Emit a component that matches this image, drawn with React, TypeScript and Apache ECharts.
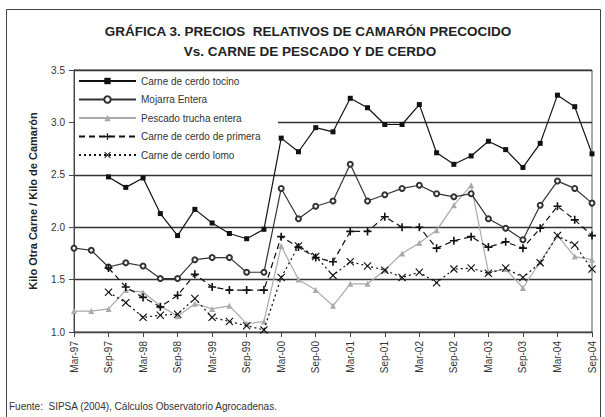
import React, { useEffect, useRef } from "react";
import * as echarts from "echarts";

const categories = [
  "Mar-97", "Jun-97", "Sep-97", "Dec-97", "Mar-98", "Jun-98", "Sep-98", "Dec-98",
  "Mar-99", "Jun-99", "Sep-99", "Dec-99", "Mar-00", "Jun-00", "Sep-00", "Dec-00",
  "Mar-01", "Jun-01", "Sep-01", "Dec-01", "Mar-02", "Jun-02", "Sep-02", "Dec-02",
  "Mar-03", "Jun-03", "Sep-03", "Dec-03", "Mar-04", "Jun-04", "Sep-04",
];

const seriesNames = [
  "Carne de cerdo tocino",
  "Mojarra Entera",
  "Pescado trucha entera",
  "Carne de cerdo de primera",
  "Carne de cerdo lomo",
];

const tocino = [null, null, 2.48, 2.38, 2.47, 2.13, 1.92, 2.17, 2.04, 1.94, 1.89, 1.98,
  2.85, 2.72, 2.95, 2.91, 3.23, 3.14, 2.98, 2.98, 3.17, 2.71, 2.6, 2.68, 2.82, 2.74, 2.57, 2.8, 3.26, 3.15, 2.7];
const mojarra = [1.8, 1.78, 1.62, 1.66, 1.63, 1.51, 1.51, 1.69, 1.71, 1.71, 1.57, 1.57,
  2.37, 2.08, 2.2, 2.25, 2.6, 2.25, 2.31, 2.37, 2.4, 2.32, 2.29, 2.32, 2.08, 1.99, 1.88, 2.21, 2.44, 2.37, 2.23];
const trucha = [1.2, 1.2, 1.22, 1.4, 1.38, 1.25, 1.15, 1.27, 1.22, 1.25, 1.08, 1.1,
  1.82, 1.5, 1.4, 1.25, 1.46, 1.46, 1.59, 1.75, 1.85, 1.97, 2.21, 2.4, 1.57, 1.6, 1.42, 1.67, 1.92, 1.72, 1.69];
const primera = [null, null, 1.61, 1.43, 1.33, 1.24, 1.35, 1.55, 1.43, 1.4, 1.4, 1.4,
  1.91, 1.81, 1.71, 1.67, 1.96, 1.96, 2.1, 2.0, 2.0, 1.8, 1.87, 1.91, 1.81, 1.86, 1.8, 1.99, 2.2, 2.07, 1.92];
const lomo = [null, null, 1.38, 1.28, 1.14, 1.16, 1.17, 1.32, 1.14, 1.1, 1.06, 1.02,
  1.52, 1.82, 1.72, 1.54, 1.67, 1.63, 1.59, 1.52, 1.57, 1.47, 1.6, 1.61, 1.56, 1.61, 1.52, 1.66, 1.92, 1.83, 1.6];

const titleLine1 = "GRÁFICA 3. PRECIOS  RELATIVOS DE CAMARÓN PRECOCIDO";
const titleLine2 = "Vs. CARNE DE PESCADO Y DE CERDO";
const yAxisTitle = "Kilo Otra Carne / Kilo de Camarón";
const sourceText = "Fuente:  SIPSA (2004), Cálculos Observatorio Agrocadenas.";

const PLUS = "path://M4,0H6V4H10V6H6V10H4V6H0V4H4Z";
const CROSS = "path://M1,0L5,4L9,0L10,1L6,5L10,9L9,10L5,6L1,10L0,9L4,5L0,1Z";

export default function App() {
  const ref = useRef<HTMLDivElement>(null);
  useEffect(() => {
    const chart = echarts.init(ref.current!, null, { renderer: "svg" });
    const font = "'Liberation Sans', Arial, sans-serif";
    chart.setOption({
      animation: false,
      backgroundColor: "#fff",
      textStyle: { fontFamily: font },
      grid: { left: 74, right: 13, top: 70, bottom: 85, show: true, borderColor: "#555", borderWidth: 1 },
      legend: {
        orient: "vertical",
        left: 76,
        top: 74,
        itemWidth: 57,
        itemHeight: 8,
        itemGap: 8.5,
        padding: 2,
        textStyle: { fontSize: 10, color: "#333", fontFamily: font },
        data: seriesNames,
      },
      graphic: [
        { type: "rect", z: 1, shape: { x: 75, y: 72, width: 203, height: 84 }, style: { fill: "#fff" } },
        { type: "rect", z: 0, shape: { x: 6.5, y: 9.5, width: 594, height: 430 }, style: { fill: "none", stroke: "#444", lineWidth: 1 } },
        {
          type: "text", x: 308, y: 31,
          style: { text: titleLine1, fill: "#222", font: "bold 13.5px 'Liberation Sans Narrow', 'Arial Narrow', sans-serif", align: "center", verticalAlign: "middle" },
        },
        {
          type: "text", x: 310, y: 51,
          style: { text: titleLine2, fill: "#222", font: "bold 13.5px 'Liberation Sans Narrow', 'Arial Narrow', sans-serif", align: "center", verticalAlign: "middle" },
        },
        {
          type: "text", x: 9, y: 406,
          style: { text: sourceText, fill: "#333", font: "10px 'Liberation Sans', Arial, sans-serif", align: "left", verticalAlign: "middle" },
        },
      ],
      xAxis: {
        type: "category",
        data: categories,
        boundaryGap: false,
        axisLine: { lineStyle: { color: "#444", width: 1 } },
        axisTick: { interval: 1, length: 5, lineStyle: { color: "#444" } },
        axisLabel: { interval: 1, rotate: 90, fontSize: 10, color: "#333", margin: 9 },
        splitLine: { show: false },
      },
      yAxis: {
        type: "value",
        min: 1,
        max: 3.5,
        interval: 0.5,
        name: yAxisTitle,
        nameLocation: "middle",
        nameRotate: 90,
        nameGap: 36,
        nameTextStyle: { fontSize: 11, fontWeight: "bold", color: "#222" },
        axisLine: { show: true, lineStyle: { color: "#444", width: 1 } },
        axisTick: { show: true, length: 5, lineStyle: { color: "#444" } },
        axisLabel: { fontSize: 10, color: "#333", margin: 9, formatter: (v: number) => v.toFixed(1) },
        splitLine: { show: true, lineStyle: { color: "#333", width: 1.3 } },
      },
      series: [
        {
          name: seriesNames[0], type: "line", data: tocino, symbol: "rect", symbolSize: 5,
          itemStyle: { color: "#111" }, lineStyle: { color: "#111", width: 1.2 }, z: 5,
        },
        {
          name: seriesNames[1], type: "line", data: mojarra, symbol: "emptyCircle", symbolSize: 5,
          itemStyle: { color: "#333", borderWidth: 1 }, lineStyle: { color: "#333", width: 1.2 }, z: 4,
        },
        {
          name: seriesNames[2], type: "line", data: trucha, symbol: "triangle", symbolSize: 6,
          itemStyle: { color: "#aaa" }, lineStyle: { color: "#aaa", width: 1.2 }, z: 3,
        },
        {
          name: seriesNames[3], type: "line", data: primera, symbol: PLUS, symbolSize: 8,
          itemStyle: { color: "#111" }, lineStyle: { color: "#111", width: 1.2, type: [6, 4] }, z: 4,
        },
        {
          name: seriesNames[4], type: "line", data: lomo, symbol: CROSS, symbolSize: 8,
          itemStyle: { color: "#111" }, lineStyle: { color: "#111", width: 1.2, type: [2, 3] }, z: 4,
        },
      ],
    });
    return () => chart.dispose();
  }, []);
  return (
    <div
      ref={ref}
      style={{ position: "fixed", left: 0, top: 0, width: 605, height: 417, background: "#fff" }}
    />
  );
}
